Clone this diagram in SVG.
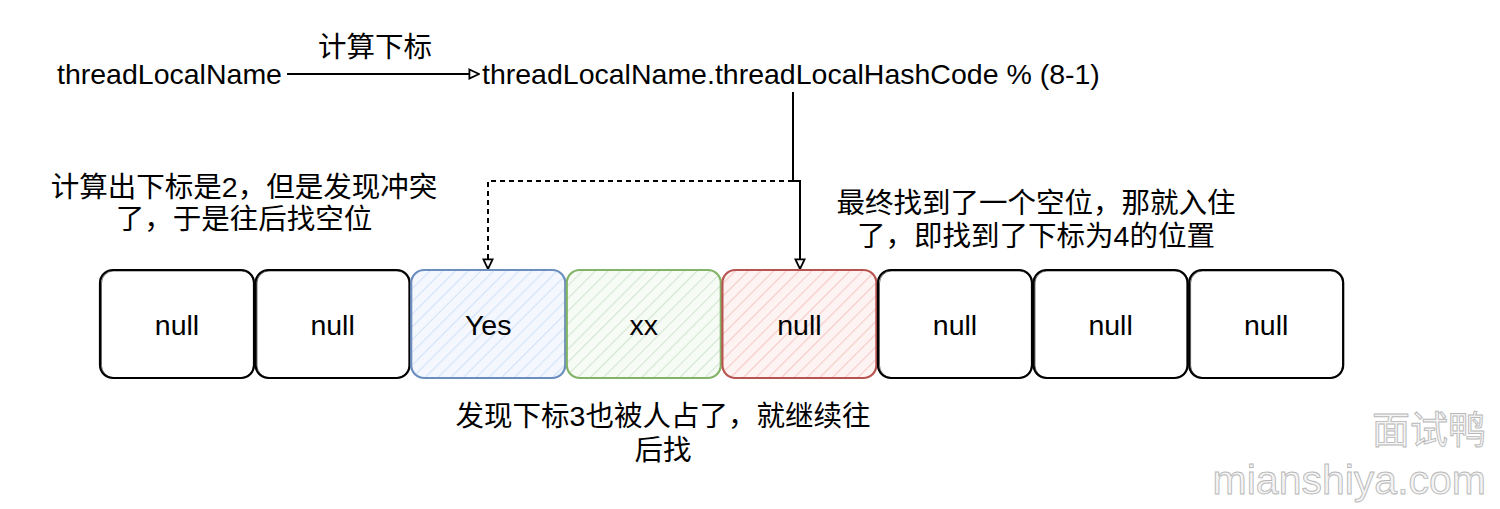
<svg xmlns="http://www.w3.org/2000/svg" width="1500" height="509" viewBox="0 0 1500 509">
<style>
  .t { font-family: "Liberation Sans", "Noto Sans CJK SC", sans-serif; font-size: 28.5px; fill: #000; }
  .c { text-anchor: middle; }
  .box { stroke: #000; stroke-width: 2.2; fill: #fff; }
  .sk { stroke: #000; stroke-width: 1; fill: none; opacity: 0.55; }
  .edge { stroke: #000; stroke-width: 2; fill: none; }
  .dash { stroke-dasharray: 5 4; }
  .wm { font-family: "Liberation Sans", "Noto Sans CJK SC", sans-serif; fill: #f4f4f4; stroke: #b8b8b8; stroke-width: 0.9; }
</style>
<defs>
  <marker id="arr" viewBox="0 0 10 10" refX="9" refY="5" markerWidth="6" markerHeight="6" orient="auto" markerUnits="strokeWidth">
    <path d="M1,1.2 L9,5 L1,8.8 Z" fill="#fff" stroke="#000" stroke-width="1.5"/>
  </marker>
  <pattern id="hB" width="9" height="9" patternUnits="userSpaceOnUse" patternTransform="rotate(45)">
    <rect width="9" height="9" fill="#f4f8fe"/>
    <line x1="0" y1="0" x2="0" y2="9" stroke="#d3e2f9" stroke-width="2.2"/>
  </pattern>
  <pattern id="hG" width="9" height="9" patternUnits="userSpaceOnUse" patternTransform="rotate(45)">
    <rect width="9" height="9" fill="#f6fbf5"/>
    <line x1="0" y1="0" x2="0" y2="9" stroke="#d3e7d1" stroke-width="2.2"/>
  </pattern>
  <pattern id="hR" width="9" height="9" patternUnits="userSpaceOnUse" patternTransform="rotate(45)">
    <rect width="9" height="9" fill="#fdf3f2"/>
    <line x1="0" y1="0" x2="0" y2="9" stroke="#f6cac7" stroke-width="2.2"/>
  </pattern>
</defs>
<rect width="1500" height="509" fill="#fff"/>

<g id="connectors">
  <line class="edge" x1="287" y1="74" x2="479" y2="74" marker-end="url(#arr)"/>
  <path class="edge" d="M793,92 L793,181 L800,181 L800,269" marker-end="url(#arr)"/>
  <path class="edge dash" d="M793,181 L488,181 L488,269" marker-end="url(#arr)"/>
</g>

<g id="label-calc">
  <text class="t c" x="375" y="47" dominant-baseline="central">计算下标</text>
</g>
<g id="node-name">
  <text class="t" x="57" y="74" dominant-baseline="central">threadLocalName</text>
</g>
<g id="node-expr">
  <text class="t" x="482" y="74" dominant-baseline="central">threadLocalName.threadLocalHashCode % (8-1)</text>
</g>
<g id="note-conflict">
  <text class="t c" x="244" y="187" dominant-baseline="central">计算出下标是2，但是发现冲突</text>
  <text class="t c" x="244" y="219" dominant-baseline="central">了，于是往后找空位</text>
</g>
<g id="note-found">
  <text class="t c" x="1036" y="203" dominant-baseline="central">最终找到了一个空位，那就入住</text>
  <text class="t c" x="1036" y="236" dominant-baseline="central">了，即找到了下标为4的位置</text>
</g>
<g id="note-occupied">
  <text class="t c" x="663" y="416" dominant-baseline="central">发现下标3也被人占了，就继续往</text>
  <text class="t c" x="663" y="450" dominant-baseline="central">后找</text>
</g>

<g id="cell0">
  <rect class="box" x="100" y="270" width="154" height="108" rx="13"/>
  <rect class="sk" x="101.5" y="271" width="152" height="106.5" rx="12"/>
  <text class="t c" x="177" y="325" dominant-baseline="central">null</text>
</g>
<g id="cell1">
  <rect class="box" x="255.6" y="270" width="154" height="108" rx="13"/>
  <rect class="sk" x="257" y="271" width="152" height="106.5" rx="12"/>
  <text class="t c" x="332.6" y="325" dominant-baseline="central">null</text>
</g>
<g id="cell2">
  <rect x="411.2" y="270" width="154" height="108" rx="13" fill="url(#hB)" stroke="#6c8ebf" stroke-width="2.2"/>
  <text class="t c" x="488.2" y="325" dominant-baseline="central">Yes</text>
</g>
<g id="cell3">
  <rect x="566.8" y="270" width="154" height="108" rx="13" fill="url(#hG)" stroke="#82b366" stroke-width="2.2"/>
  <text class="t c" x="643.8" y="325" dominant-baseline="central">xx</text>
</g>
<g id="cell4">
  <rect x="722.4" y="270" width="154" height="108" rx="13" fill="url(#hR)" stroke="#b85450" stroke-width="2.2"/>
  <text class="t c" x="799.4" y="325" dominant-baseline="central">null</text>
</g>
<g id="cell5">
  <rect class="box" x="878" y="270" width="154" height="108" rx="13"/>
  <rect class="sk" x="879.5" y="271" width="152" height="106.5" rx="12"/>
  <text class="t c" x="955" y="325" dominant-baseline="central">null</text>
</g>
<g id="cell6">
  <rect class="box" x="1033.6" y="270" width="154" height="108" rx="13"/>
  <rect class="sk" x="1035" y="271" width="152" height="106.5" rx="12"/>
  <text class="t c" x="1110.6" y="325" dominant-baseline="central">null</text>
</g>
<g id="cell7">
  <rect class="box" x="1189.2" y="270" width="154" height="108" rx="13"/>
  <rect class="sk" x="1190.6" y="271" width="152" height="106.5" rx="12"/>
  <text class="t c" x="1266.2" y="325" dominant-baseline="central">null</text>
</g>

<g id="watermark">
  <text class="wm" x="1486" y="430" font-size="38" text-anchor="end" dominant-baseline="central">面试鸭</text>
  <text class="wm" x="1486" y="480" font-size="41" text-anchor="end" dominant-baseline="central">mianshiya.com</text>
</g>
</svg>
